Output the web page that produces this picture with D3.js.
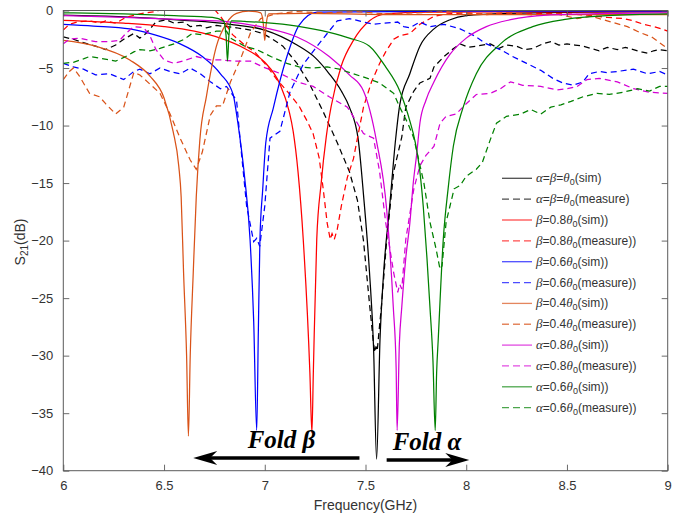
<!DOCTYPE html>
<html><head><meta charset="utf-8">
<script src="https://cdn.jsdelivr.net/npm/d3@7"></script>
<style>body{margin:0;background:#fff}svg{display:block}</style>
</head><body><svg id="c" width="687" height="514"></svg>
<script>
// ---- data (frequency GHz, S21 dB) ----
const xTicks = [6, 6.5, 7, 7.5, 8, 8.5, 9];
const yTicks = [-40, -35, -30, -25, -20, -15, -10, -5, 0];

const blackSim = [[6.0,-0.4],[6.3,-0.55],[6.6,-0.85],[6.83,-1.2],[7.0,-1.7],[7.16,-3.0],[7.25,-4.1],[7.32,-5.5],[7.38,-7.0],[7.42,-8.4],[7.463,-11.1],[7.49,-16],[7.52,-22.8],[7.54,-29.3],[7.555,-39],[7.572,-28.6],[7.59,-22.8],[7.62,-17],[7.65,-11.1],[7.67,-8.2],[7.72,-5.5],[7.77,-3.1],[7.84,-1.6],[7.92,-0.8],[8.0,-0.45],[8.2,-0.25],[8.6,-0.15],[9.0,-0.1]];
const blackMeas = [[6.0,-2.3],[6.05,-2.5],[6.1,-2.8],[6.16,-3.1],[6.21,-3.4],[6.26,-3.0],[6.3,-2.5],[6.35,-2.0],[6.38,-2.4],[6.41,-2.0],[6.46,-1.0],[6.51,-0.8],[6.55,-1.1],[6.6,-1.0],[6.63,-1.4],[6.68,-1.3],[6.71,-1.5],[6.76,-1.3],[6.81,-1.4],[6.86,-1.5],[6.93,-1.7],[6.99,-2.0],[7.04,-2.5],[7.09,-3.1],[7.16,-4.6],[7.22,-6.3],[7.29,-8.8],[7.36,-11.5],[7.42,-14],[7.46,-16.5],[7.49,-20],[7.52,-25.5],[7.54,-29],[7.547,-29.7],[7.552,-29.2],[7.558,-29.6],[7.58,-25.5],[7.605,-20],[7.64,-14],[7.68,-11],[7.7,-8.4],[7.74,-7.0],[7.77,-6.3],[7.82,-5.9],[7.84,-4.9],[7.89,-4.0],[7.93,-3.4],[7.97,-2.9],[8.01,-3.2],[8.05,-3.1],[8.12,-2.9],[8.16,-3.3],[8.2,-3.0],[8.25,-3.1],[8.29,-3.4],[8.33,-3.3],[8.38,-2.9],[8.42,-2.7],[8.46,-3.0],[8.5,-2.9],[8.54,-3.0],[8.58,-3.1],[8.62,-3.3],[8.66,-3.5],[8.7,-3.2],[8.75,-3.4],[8.79,-3.2],[8.83,-3.4],[8.87,-3.6],[8.9,-3.7],[8.93,-3.5],[8.96,-3.4],[9.0,-3.5]];
const redSim = [[6.0,-0.85],[6.3,-1.1],[6.5,-1.4],[6.65,-1.8],[6.78,-2.4],[6.9,-3.3],[7.0,-4.5],[7.075,-6.4],[7.12,-8.7],[7.141,-10.5],[7.165,-14],[7.191,-19.9],[7.224,-31.5],[7.234,-36.7],[7.241,-31.5],[7.258,-19.9],[7.28,-15],[7.305,-11],[7.33,-8.3],[7.38,-4.8],[7.44,-2.6],[7.52,-0.9],[7.6,-0.3],[7.8,-0.15],[9.0,-0.1]];
const redMeas = [[6.0,-1.7],[6.03,-1.2],[6.07,-1.0],[6.13,-0.9],[6.18,-1.1],[6.21,-0.9],[6.26,-1.1],[6.3,-0.7],[6.33,-0.5],[6.38,-0.3],[6.41,-0.2],[6.46,-0.1],[6.5,0.2],[6.55,0.6],[6.62,0.8],[6.7,0.5],[6.75,0.1],[6.78,-0.5],[6.8,-1.0],[6.84,-2.1],[6.9,-3.0],[6.95,-3.6],[7.0,-4.6],[7.06,-6.0],[7.12,-7.2],[7.17,-8.3],[7.21,-9.6],[7.24,-10.7],[7.27,-12.8],[7.29,-15.5],[7.31,-18.5],[7.325,-19.9],[7.334,-19.4],[7.345,-19.9],[7.36,-19],[7.38,-17],[7.41,-14.5],[7.44,-12.9],[7.46,-11.1],[7.49,-8.4],[7.53,-6.2],[7.57,-4.6],[7.6,-3.6],[7.64,-2.5],[7.67,-2.2],[7.72,-2.0],[7.77,-1.2],[7.84,-0.5],[7.9,-0.3],[8.0,-0.2],[8.1,-0.35],[8.2,-0.2],[8.3,-0.3],[8.4,-0.25],[8.5,-0.3],[8.6,-0.4],[8.7,-0.6],[8.78,-0.7],[8.83,-0.9],[8.88,-1.2],[8.93,-1.4],[8.97,-1.6],[9.0,-1.8]];
const blueSim = [[6.0,-1.2],[6.15,-1.35],[6.33,-1.6],[6.45,-2.1],[6.58,-2.9],[6.69,-4.0],[6.78,-5.5],[6.843,-7.3],[6.86,-9],[6.877,-11.1],[6.9,-14.5],[6.927,-19.9],[6.945,-27],[6.96,-36.5],[6.968,-28],[6.976,-19.9],[6.99,-15.5],[7.005,-11.5],[7.042,-8.5],[7.11,-4.0],[7.17,-1.3],[7.26,-0.15],[8.0,-0.05],[9.0,-0.05]];
const blueMeas = [[6.0,-4.6],[6.05,-4.9],[6.1,-5.1],[6.16,-5.6],[6.23,-5.5],[6.3,-6.0],[6.35,-5.3],[6.38,-5.1],[6.43,-5.5],[6.48,-5.0],[6.53,-5.3],[6.58,-5.5],[6.63,-5.0],[6.68,-5.5],[6.73,-6.2],[6.78,-6.8],[6.81,-6.6],[6.86,-7.8],[6.877,-11.1],[6.91,-17],[6.945,-20.1],[6.96,-19.8],[6.975,-20.5],[7.0,-17],[7.026,-11.1],[7.075,-10.5],[7.125,-7.1],[7.19,-4.7],[7.26,-3.1],[7.31,-2.0],[7.36,-0.9],[7.42,-0.7],[7.49,-1.0],[7.54,-1.2],[7.59,-1.1],[7.66,-1.0],[7.69,-1.4],[7.72,-1.5],[7.77,-1.0],[7.82,-1.4],[7.89,-1.2],[7.97,-1.6],[8.04,-2.2],[8.1,-2.9],[8.17,-3.4],[8.23,-4.0],[8.3,-4.6],[8.37,-5.2],[8.43,-5.9],[8.48,-6.3],[8.53,-6.5],[8.58,-6.2],[8.61,-5.5],[8.66,-5.3],[8.7,-5.4],[8.75,-5.3],[8.83,-5.1],[8.9,-5.5],[8.96,-5.3],[9.0,-5.6]];
const orangeSim = [[6.0,-2.6],[6.16,-3.1],[6.33,-4.3],[6.43,-5.7],[6.5,-7.6],[6.545,-10.5],[6.573,-13.5],[6.585,-16.2],[6.597,-22.8],[6.612,-30],[6.621,-37],[6.63,-30],[6.645,-22.8],[6.66,-16.2],[6.678,-11.2],[6.71,-7.5],[6.76,-3.1],[6.81,-1.1],[6.86,-0.25],[6.92,-0.05],[6.98,-0.2],[6.993,-1.2],[7.0,-2.6],[7.007,-1.2],[7.02,-0.3],[7.2,-0.25],[7.6,-0.35],[8.5,-0.35],[9.0,-0.35]];
const orangeMeas = [[6.0,-6.0],[6.03,-5.3],[6.05,-5.0],[6.08,-5.7],[6.1,-6.3],[6.13,-7.2],[6.18,-7.5],[6.21,-8.1],[6.26,-9.0],[6.3,-8.4],[6.33,-6.6],[6.35,-5.4],[6.38,-5.6],[6.43,-6.4],[6.48,-7.2],[6.53,-9.0],[6.58,-11.1],[6.63,-13],[6.66,-13.8],[6.69,-12.3],[6.73,-9.1],[6.76,-8.3],[6.79,-8.3],[6.83,-6.2],[6.88,-4.2],[6.93,-1.9],[6.98,-0.7],[7.05,-0.3],[7.15,-0.1],[7.3,-0.2],[7.45,-0.1],[7.6,-0.3],[7.75,-0.2],[7.9,-0.1],[8.05,-0.3],[8.2,-0.2],[8.35,-0.4],[8.45,-0.3],[8.55,-0.7],[8.62,-0.5],[8.7,-0.9],[8.8,-1.4],[8.86,-1.9],[8.92,-2.3],[8.96,-2.8],[9.0,-3.3]];
const magentaSim = [[6.0,-0.45],[6.3,-0.6],[6.6,-0.8],[6.83,-1.0],[7.0,-1.5],[7.16,-2.3],[7.32,-4.0],[7.42,-5.6],[7.49,-7.0],[7.555,-11.4],[7.605,-17.3],[7.638,-25.8],[7.652,-31],[7.657,-36.5],[7.668,-29],[7.68,-25.8],[7.7,-21.5],[7.72,-18.5],[7.737,-15],[7.754,-12.5],[7.77,-9.8],[7.8,-7.8],[7.84,-6.2],[7.92,-3.8],[8.0,-2.4],[8.1,-1.4],[8.22,-0.8],[8.4,-0.4],[8.7,-0.25],[9.0,-0.2]];
const magentaMeas = [[6.0,-2.9],[6.03,-2.5],[6.08,-2.4],[6.13,-2.6],[6.16,-2.7],[6.23,-2.7],[6.28,-2.6],[6.31,-2.0],[6.35,-1.4],[6.4,-1.5],[6.43,-2.2],[6.46,-3.4],[6.5,-4.3],[6.55,-4.6],[6.61,-4.3],[6.66,-4.0],[6.73,-4.3],[6.79,-4.3],[6.84,-4.4],[6.93,-4.4],[6.99,-4.9],[7.08,-5.5],[7.16,-6.2],[7.24,-6.6],[7.32,-7.5],[7.41,-8.4],[7.46,-9.8],[7.49,-10.7],[7.54,-11.1],[7.57,-14],[7.6,-18.4],[7.64,-22.8],[7.66,-24.5],[7.67,-23.8],[7.68,-24.2],[7.7,-19.9],[7.74,-15.5],[7.77,-13.5],[7.8,-12.6],[7.84,-11.8],[7.87,-9.8],[7.9,-9.2],[7.95,-9.0],[8.0,-8.1],[8.05,-7.3],[8.12,-7.2],[8.17,-6.8],[8.22,-6.2],[8.28,-6.5],[8.37,-6.6],[8.45,-6.9],[8.5,-6.8],[8.55,-6.6],[8.6,-6.0],[8.66,-5.9],[8.75,-6.2],[8.83,-6.8],[8.91,-7.1],[9.0,-7.2]];
const greenSim = [[6.0,-0.2],[6.3,-0.3],[6.55,-0.45],[6.74,-0.6],[6.795,-0.9],[6.808,-2.2],[6.815,-4.4],[6.822,-2.2],[6.835,-0.9],[6.9,-0.95],[7.0,-1.05],[7.16,-1.35],[7.32,-1.9],[7.42,-2.4],[7.52,-3.1],[7.6,-4.9],[7.67,-7.0],[7.72,-9.6],[7.745,-11.3],[7.77,-14],[7.787,-17.1],[7.805,-21.5],[7.82,-25.8],[7.835,-30.5],[7.846,-36.5],[7.853,-31.5],[7.861,-28.6],[7.886,-19.9],[7.91,-15.5],[7.936,-11.8],[7.985,-8.4],[8.05,-5.5],[8.17,-2.9],[8.33,-1.4],[8.5,-0.75],[8.7,-0.45],[9.0,-0.3]];
const greenMeas = [[6.0,-4.6],[6.05,-4.5],[6.1,-4.2],[6.13,-4.0],[6.2,-4.2],[6.26,-4.4],[6.31,-4.0],[6.35,-3.6],[6.38,-3.4],[6.43,-3.5],[6.48,-3.3],[6.55,-2.9],[6.6,-2.5],[6.64,-2.0],[6.69,-2.1],[6.76,-1.8],[6.81,-1.8],[6.83,-2.4],[6.9,-3.1],[6.96,-3.4],[7.03,-4.0],[7.11,-4.6],[7.17,-4.9],[7.24,-5.0],[7.31,-4.9],[7.37,-5.1],[7.44,-5.5],[7.51,-5.9],[7.57,-6.3],[7.64,-7.2],[7.67,-8.4],[7.71,-9.8],[7.74,-11.1],[7.79,-15],[7.82,-18.4],[7.85,-20.7],[7.87,-22.5],[7.88,-22.2],[7.9,-18.4],[7.94,-15.5],[7.97,-15.2],[8.0,-14.4],[8.05,-13.8],[8.08,-13.2],[8.12,-11.2],[8.15,-9.8],[8.2,-9.2],[8.27,-9.0],[8.32,-8.6],[8.37,-9.0],[8.42,-8.4],[8.47,-8.2],[8.52,-7.9],[8.58,-7.5],[8.65,-7.2],[8.71,-7.3],[8.78,-7.1],[8.85,-6.8],[8.91,-7.0],[8.96,-6.6],[9.0,-6.6]];

const seriesLabels = ["α=β=θ_0(sim)","α=β=θ_0(measure)","β=0.8θ_0(sim))","β=0.8θ_0(measure))","β=0.6θ_0(sim))","β=0.6θ_0(measure))","β=0.4θ_0(sim))","β=0.4θ_0(measure))","α=0.8θ_0(sim))","α=0.8θ_0(measure))","α=0.6θ_0(sim))","α=0.6θ_0(measure))"];
const seriesData = [blackSim, blackMeas, redSim, redMeas, blueSim, blueMeas, orangeSim, orangeMeas, magentaSim, magentaMeas, greenSim, greenMeas];
const seriesColors = ["#000000","#000000","#ff0000","#ff0000","#0000ff","#0000ff","#d95319","#d95319","#d400d4","#d400d4","#008000","#008000"];
const seriesDashed = [false,true,false,true,false,true,false,true,false,true,false,true];

// annotations: [tailFreq, tipFreq, dB]
const arrowFoldBeta = [7.47, 6.645, -38.9];
const arrowFoldAlpha = [7.605, 8.015, -39.07];
const labelFoldBeta = ["Fold β", 6.915, -38.0];
const labelFoldAlpha = ["Fold α", 7.635, -38.2];

// ---- chart ----
const svg = d3.select("#c");
svg.append("rect").attr("width",687).attr("height",514).attr("fill","#fff");
const L = 63.3, R = 667.7, T = 10.5, B = 470.7;
const x = d3.scaleLinear().domain([6,9]).range([L,R]);
const y = d3.scaleLinear().domain([-40,0]).range([B,T]);
const font = "'Liberation Sans', Arial, Helvetica, sans-serif";
const axisCol = "#5a5a5a", textCol = "#333";

svg.append("clipPath").attr("id","clip").append("rect")
  .attr("x",L).attr("y",T).attr("width",R-L).attr("height",B-T);

const plot = svg.append("g").attr("clip-path","url(#clip)");
seriesData.forEach((d,i)=>{
  const line = d3.line().x(p=>x(p[0])).y(p=>y(p[1]))
    .curve(seriesDashed[i] ? d3.curveLinear : d3.curveMonotoneX);
  plot.append("path").datum(d).attr("d",line)
    .attr("fill","none").attr("stroke",seriesColors[i])
    .attr("stroke-width",1.25)
    .attr("stroke-dasharray", seriesDashed[i] ? "6,4" : null);
});

// axes
function styleAxis(g){
  g.select(".domain").remove();
  g.selectAll(".tick line").attr("stroke",axisCol).attr("stroke-width",0.9);
  g.selectAll(".tick text").attr("fill",textCol).style("font-family",font).style("font-size","13px");
}
svg.append("g").attr("transform",`translate(0,${B})`)
  .call(d3.axisBottom(x).tickValues(xTicks).tickFormat(d3.format("")).tickSizeInner(-6).tickSizeOuter(0).tickPadding(10))
  .call(styleAxis);
svg.append("g").attr("transform",`translate(0,${T})`)
  .call(d3.axisTop(x).tickValues(xTicks).tickFormat("").tickSizeInner(-6).tickSizeOuter(0))
  .call(styleAxis);
svg.append("g").attr("transform",`translate(${L},0)`)
  .call(d3.axisLeft(y).tickValues(yTicks).tickFormat(d3.format("")).tickSizeInner(-6).tickSizeOuter(0).tickPadding(10))
  .call(styleAxis);
svg.append("g").attr("transform",`translate(${R},0)`)
  .call(d3.axisRight(y).tickValues(yTicks).tickFormat("").tickSizeInner(-6).tickSizeOuter(0))
  .call(styleAxis);
svg.selectAll(".tick text").attr("font-family",null);
svg.append("rect").attr("x",L).attr("y",T).attr("width",R-L).attr("height",B-T)
  .attr("fill","none").attr("stroke",axisCol).attr("stroke-width",1);

// axis labels
svg.append("text").attr("x",(L+R)/2).attr("y",510).attr("text-anchor","middle")
  .attr("fill",textCol).style("font-family",font).style("font-size","14px").text("Frequency(GHz)");
const yl = svg.append("text").attr("transform","translate(25,242) rotate(-90)").attr("text-anchor","middle")
  .attr("fill",textCol).style("font-family",font).style("font-size","14px");
yl.append("tspan").text("S");
yl.append("tspan").attr("dy",3).style("font-size","10px").text("21");
yl.append("tspan").attr("dy",-3).text("(dB)");

// rich legend text
function rich(t, str){
  const parts = str.match(/_0|[αβθ]|[^αβθ_]+/g);
  let sub = false;
  parts.forEach(p=>{
    if (p === "_0"){
      t.append("tspan").attr("dy",3).style("font-size","9px").text("0");
      sub = true;
    } else {
      const s = t.append("tspan").text(p);
      if (sub){ s.attr("dy",-3); sub=false; }
      if (/[αβθ]/.test(p)) s.style("font-family","'Liberation Serif','DejaVu Serif',serif").style("font-style","italic").style("font-size","13px");
    }
  });
}
const leg = svg.append("g");
seriesLabels.forEach((lab,i)=>{
  const cy = 178.3 + i*20.85;
  leg.append("line").attr("x1",502).attr("x2",532).attr("y1",cy).attr("y2",cy)
    .attr("stroke",seriesColors[i]).attr("stroke-opacity",0.7).attr("stroke-width",1.3)
    .attr("stroke-dasharray", seriesDashed[i] ? "7,4" : null);
  const t = leg.append("text").attr("x",536).attr("y",cy+4)
    .attr("fill",textCol).style("font-family",font).style("font-size","12px");
  rich(t, lab);
});

// arrows
function arrow(a){
  const [tail, tip, db] = a;
  const xt = x(tail), xp = x(tip), yy = y(db);
  const dir = Math.sign(xp - xt);
  const hl = 24, hw = 7;
  svg.append("line").attr("x1",xt).attr("x2",xp - dir*hl*0.6).attr("y1",yy).attr("y2",yy)
    .attr("stroke","#000").attr("stroke-width",3.5);
  svg.append("path").attr("d",
    `M${xp},${yy} L${xp-dir*hl},${yy-hw} L${xp-dir*hl*0.7},${yy} L${xp-dir*hl},${yy+hw} Z`)
    .attr("fill","#000");
}
arrow(arrowFoldBeta); arrow(arrowFoldAlpha);
[labelFoldBeta, labelFoldAlpha].forEach(l=>{
  svg.append("text").attr("x",x(l[1])).attr("y",y(l[2])).text(l[0])
    .style("font-family","'Liberation Serif','Times New Roman',serif")
    .style("font-weight","bold").style("font-style","italic").style("font-size","25px").attr("fill","#000");
});
</script></body></html>
